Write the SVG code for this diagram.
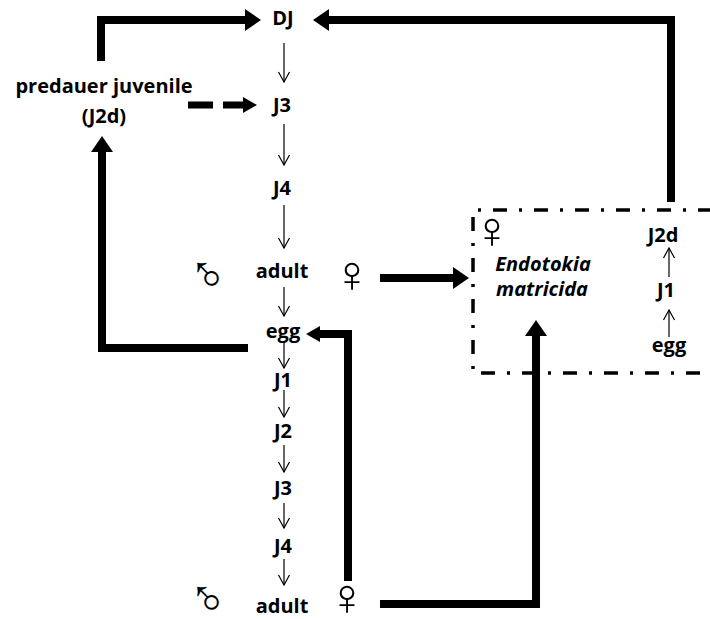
<svg xmlns="http://www.w3.org/2000/svg" width="710" height="619" viewBox="0 0 710 619">
<style>
.t{font-family:"Open Sans","Liberation Sans",sans-serif;font-weight:bold;font-size:20px;fill:#000;text-anchor:middle}
.it{font-style:italic}
.sym{font-family:"Liberation Sans","DejaVu Sans",sans-serif;font-size:52px;fill:#000;text-anchor:middle}
.thick{fill:none;stroke:#000;stroke-width:8}
.thin{fill:none;stroke:#000;stroke-width:1.2}
</style>
<defs>
<marker id="big" markerUnits="userSpaceOnUse" viewBox="0 -11 16 22" markerWidth="16" markerHeight="22" refX="0" refY="0" orient="auto">
<path d="M0,-11 L16,0 L0,11 z" fill="#000"/>
</marker>
<marker id="mid" markerUnits="userSpaceOnUse" viewBox="0 -8 14 16" markerWidth="14" markerHeight="16" refX="0" refY="0" orient="auto">
<path d="M0,-8 L14,0 L0,8 z" fill="#000"/>
</marker>
<marker id="open" markerUnits="userSpaceOnUse" viewBox="-12 -7 14 14" markerWidth="14" markerHeight="14" refX="0" refY="0" orient="auto">
<path d="M-10,-5.5 L0,0 L-10,5.5" fill="none" stroke="#000" stroke-width="1.2"/>
</marker>
</defs>
<g id="connectors">
<polyline class="thick" points="101,61 101,20 245,20" marker-end="url(#big)"/>
<polyline class="thick" points="671,202 671,20 329,20" marker-end="url(#big)"/>
<polyline class="thick" points="248,348 102,348 102,152" marker-end="url(#big)"/>
<line class="thick" x1="380" y1="278" x2="453" y2="278" marker-end="url(#big)"/>
<polyline class="thick" points="348,581 348,334 320,334" marker-end="url(#mid)"/>
<polyline class="thick" points="380,604 536,604 536,336" marker-end="url(#big)"/>
<line class="thick" style="stroke-width:7;stroke-dasharray:25 10" x1="188" y1="105" x2="243" y2="105" marker-end="url(#mid)"/>
<line class="thin" x1="284" y1="43" x2="284" y2="82" marker-end="url(#open)"/>
<line class="thin" x1="284" y1="124" x2="284" y2="165" marker-end="url(#open)"/>
<line class="thin" x1="284" y1="205" x2="284" y2="248" marker-end="url(#open)"/>
<line class="thin" x1="284" y1="287" x2="284" y2="316" marker-end="url(#open)"/>
<line class="thin" x1="284" y1="342" x2="284" y2="368" marker-end="url(#open)"/>
<line class="thin" x1="284" y1="390" x2="284" y2="417" marker-end="url(#open)"/>
<line class="thin" x1="284" y1="445" x2="284" y2="472" marker-end="url(#open)"/>
<line class="thin" x1="284" y1="503" x2="284" y2="528" marker-end="url(#open)"/>
<line class="thin" x1="284" y1="559" x2="284" y2="585" marker-end="url(#open)"/>
<line class="thin" x1="669" y1="277" x2="669" y2="248" marker-end="url(#open)"/>
<line class="thin" x1="669" y1="337" x2="669" y2="310" marker-end="url(#open)"/>
</g>
<g id="box">
<path d="M712,210 H473 V373 H712" fill="none" stroke="#000" stroke-width="3.5" stroke-dasharray="14 12 3 12"/>
</g>
<g id="node-DJ"><text class="t" x="283" y="25">DJ</text></g>
<g id="node-predauer"><text class="t" x="104" y="93">predauer  juvenile</text><text class="t" x="104" y="123">(J2d)</text></g>
<g id="node-J3a"><text class="t" x="282" y="112">J3</text></g>
<g id="node-J4a"><text class="t" x="282" y="195">J4</text></g>
<g id="node-adult1"><text class="t" x="282" y="278">adult</text>
<text class="sym" transform="translate(208,292) scale(-1,1)">♂</text>
<text class="sym" x="352" y="292">♀</text></g>
<g id="node-egg"><text class="t" x="283" y="338">egg</text></g>
<g id="node-J1"><text class="t" x="283" y="387">J1</text></g>
<g id="node-J2"><text class="t" x="283" y="438">J2</text></g>
<g id="node-J3b"><text class="t" x="283" y="495">J3</text></g>
<g id="node-J4b"><text class="t" x="283" y="553">J4</text></g>
<g id="node-adult2"><text class="t" x="282" y="613">adult</text>
<text class="sym" transform="translate(208,616) scale(-1,1)">♂</text>
<text class="sym" x="347" y="615">♀</text></g>
<g id="node-endotokia">
<text class="sym" x="492" y="248">♀</text>
<text class="t it" x="543" y="271">Endotokia</text>
<text class="t it" x="542" y="296">matricida</text>
<text class="t" x="663" y="242">J2d</text>
<text class="t" x="666" y="297">J1</text>
<text class="t" x="669" y="352">egg</text>
</g>
</svg>
